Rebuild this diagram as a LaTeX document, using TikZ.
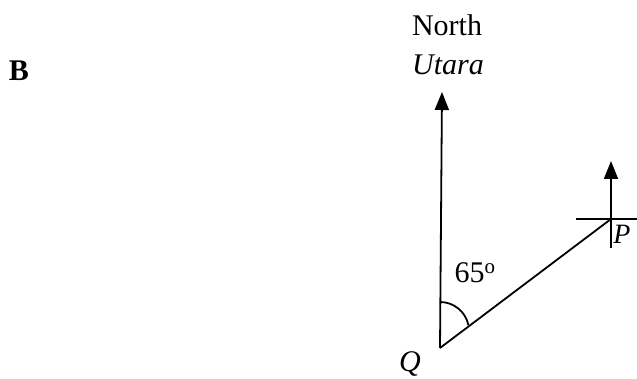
\documentclass[tikz,border=0pt]{standalone}
\usepackage{fontspec}
\setmainfont{Liberation Serif}
\usetikzlibrary{arrows.meta}
\begin{document}
\begin{tikzpicture}[x=1pt,y=1pt,line width=1.8pt,
  northarrow/.style={-{Triangle[length=18pt,width=14pt]}},
  lbl/.style={inner sep=0pt,font=\fontsize{30}{35}\selectfont}]
\useasboundingbox (0,0) rectangle (637,379);
\coordinate (Q) at (440,31);
\coordinate (N) at (442,287);
\coordinate (P) at (611,160);
\coordinate (Pb) at (611,131);
\coordinate (Pt) at (611,218);
\coordinate (Hl) at (576,160);
\coordinate (Hr) at (637,160);
% main lines
\draw[northarrow] (Q) -- (N);
\draw (Q) -- (P);
\draw[northarrow] (Pb) -- (Pt);
\draw (Hl) -- (Hr);
% angle arc
\draw (440,77) arc[start angle=90,end angle=12,radius=29pt];
% labels
\node[lbl,font=\fontsize{30}{35}\selectfont\bfseries] (B) at (19,308) {B};
\node[lbl] (north) at (447,354) {North};
\node[lbl,font=\fontsize{30}{35}\selectfont\itshape] (utara) at (448,314) {Utara};
\node[lbl] (ang) at (475,106) {65\textsuperscript{o}};
\node[lbl,font=\fontsize{30}{35}\selectfont\itshape] (Qlbl) at (410,15) {Q};
\node[lbl,font=\fontsize{28}{33}\selectfont\itshape] (Plbl) at (622,145) {P};
\end{tikzpicture}
\end{document}
